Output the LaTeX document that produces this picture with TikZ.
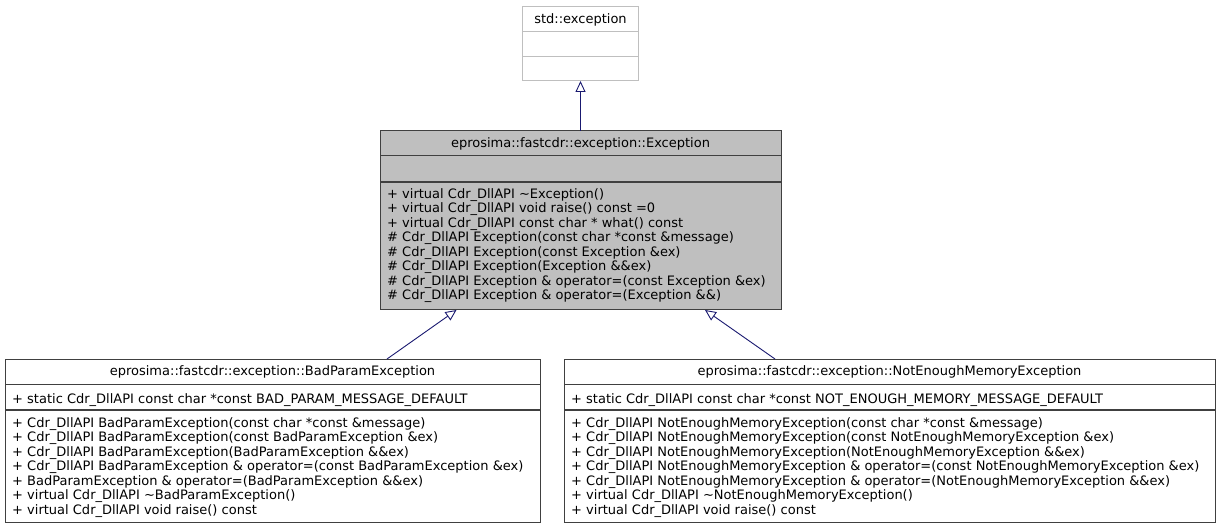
\documentclass[tikz,border=0pt]{standalone}
\usepackage{fontspec}
\setmainfont{DejaVu Sans}
\usepackage{xcolor}
\definecolor{edgeblue}{HTML}{191970}
\definecolor{baseFill}{HTML}{BFBFBF}
\definecolor{frameGray}{HTML}{404040}
\definecolor{extFrame}{HTML}{BFBFBF}
\usetikzlibrary{arrows.meta,calc}
\newcommand\cdrapi{Cdr\_DllAPI}
\tikzset{
  clsbox/.style={draw=frameGray,line width=1pt,fill=white,inner sep=0pt,outer sep=0pt},
  basebox/.style={clsbox,fill=baseFill},
  extbox/.style={clsbox,draw=extFrame},
  sep/.style={draw=frameGray,line width=1pt},
  septhick/.style={draw=frameGray,line width=1.3pt},
  ttl/.style={font=\fontsize{13}{14.5}\selectfont,inner sep=0pt},
  mem/.style={font=\fontsize{13}{14.5}\selectfont,align=left,inner sep=0pt,anchor=north west},
  inh/.style={-{Triangle[open,fill=white,length=11pt,width=10pt]},edgeblue,line width=0.9pt}}

\begin{document}
\begin{tikzpicture}[x=1pt,y=-1pt]
  \useasboundingbox (0,0) rectangle (1221,529);
  % classes
  \node[extbox,minimum width=116pt,minimum height=74pt] (stdex) at (580.5,44) {};
  \node[basebox,minimum width=401pt,minimum height=179pt] (exc) at (580.5,220.5) {};
  \node[clsbox,minimum width=535pt,minimum height=163pt] (bad) at (272.5,440.5) {};
  \node[clsbox,minimum width=651pt,minimum height=163pt] (nem) at (889.5,440.5) {};
  % compartments
  \draw[sep,extFrame] ([yshift=-25pt]stdex.north west) -- ([yshift=-25pt]stdex.north east);
  \draw[sep,extFrame] ([yshift=-50pt]stdex.north west) -- ([yshift=-50pt]stdex.north east);
  \foreach \c in {exc,bad,nem}{
    \draw[sep] ([yshift=-25pt]\c.north west) -- ([yshift=-25pt]\c.north east);
    \draw[septhick] ([yshift=-51pt]\c.north west) -- ([yshift=-51pt]\c.north east);
  }
  % titles
  \node[ttl] (stdexttl) at ([yshift=-12.5pt]stdex.north) {std::exception};
  \node[ttl] (excttl) at ([yshift=-12.5pt]exc.north) {eprosima::fastcdr::exception::Exception};
  \node[ttl] (badttl) at ([yshift=-12.5pt]bad.north) {eprosima::fastcdr::exception::BadParamException};
  \node[ttl] (nemttl) at ([yshift=-12.5pt]nem.north) {eprosima::fastcdr::exception::NotEnoughMemoryException};
  % members
  \node[mem] (excmem) at ([xshift=7pt,yshift=-57pt]exc.north west) {%
    + virtual \cdrapi{} \textasciitilde Exception()\\
    + virtual \cdrapi{} void raise() const =0\\
    + virtual \cdrapi{} const char * what() const\\
    \# \cdrapi{} Exception(const char *const \&message)\\
    \# \cdrapi{} Exception(const Exception \&ex)\\
    \# \cdrapi{} Exception(Exception \&\&ex)\\
    \# \cdrapi{} Exception \& operator=(const Exception \&ex)\\
    \# \cdrapi{} Exception \& operator=(Exception \&\&)};
  \node[mem] (badattr) at ([xshift=7pt,yshift=-34pt]bad.north west)
    {+ static \cdrapi{} const char *const BAD\_PARAM\_MESSAGE\_DEFAULT};
  \node[mem] (badmem) at ([xshift=7pt,yshift=-58pt]bad.north west) {%
    + \cdrapi{} BadParamException(const char *const \&message)\\
    + \cdrapi{} BadParamException(const BadParamException \&ex)\\
    + \cdrapi{} BadParamException(BadParamException \&\&ex)\\
    + \cdrapi{} BadParamException \& operator=(const BadParamException \&ex)\\
    + BadParamException \& operator=(BadParamException \&\&ex)\\
    + virtual \cdrapi{} \textasciitilde BadParamException()\\
    + virtual \cdrapi{} void raise() const};
  \node[mem] (nemattr) at ([xshift=7pt,yshift=-34pt]nem.north west)
    {+ static \cdrapi{} const char *const NOT\_ENOUGH\_MEMORY\_MESSAGE\_DEFAULT};
  \node[mem] (nemmem) at ([xshift=7pt,yshift=-58pt]nem.north west) {%
    + \cdrapi{} NotEnoughMemoryException(const char *const \&message)\\
    + \cdrapi{} NotEnoughMemoryException(const NotEnoughMemoryException \&ex)\\
    + \cdrapi{} NotEnoughMemoryException(NotEnoughMemoryException \&\&ex)\\
    + \cdrapi{} NotEnoughMemoryException \& operator=(const NotEnoughMemoryException \&ex)\\
    + \cdrapi{} NotEnoughMemoryException \& operator=(NotEnoughMemoryException \&\&ex)\\
    + virtual \cdrapi{} \textasciitilde NotEnoughMemoryException()\\
    + virtual \cdrapi{} void raise() const};
  % inheritance
  \draw[inh] (exc.north) -- (stdex.south);
  \draw[inh] ([xshift=114.5pt]bad.north) -- ([xshift=-124pt]exc.south);
  \draw[inh] ([xshift=-114.5pt]nem.north) -- ([xshift=124.5pt]exc.south);
\end{tikzpicture}
\end{document}
